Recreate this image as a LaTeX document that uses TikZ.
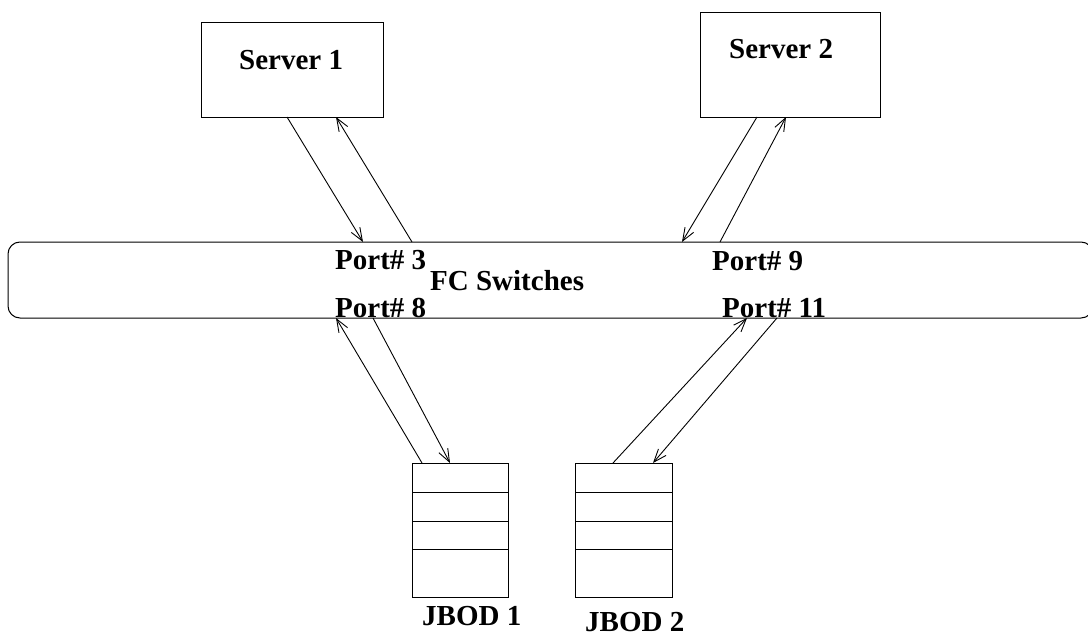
\documentclass[tikz,border=0pt]{standalone}
\usepackage{fontspec}
\setmainfont{Liberation Serif}
\usetikzlibrary{arrows.meta}
\begin{document}
\begin{tikzpicture}[x=1pt,y=-1pt,
  box/.style={draw, line width=1pt, inner sep=0pt, outer sep=0pt},
  lbl/.style={anchor=base west, inner sep=0pt, font=\fontsize{29}{31}\selectfont\bfseries},
  link/.style={line width=0.9pt, -{Straight Barb[length=13pt,width=10pt]}}]
\useasboundingbox (0,0) rectangle (1088,637);
\clip (0,0) rectangle (1088,637);
% boxes
\node[box, minimum width=182pt, minimum height=95pt] (s1) at (292,69.5) {};
\node[box, minimum width=180pt, minimum height=105pt] (s2) at (790,64.5) {};
\node[box, rounded corners=12pt, minimum width=1085pt, minimum height=76pt] (sw) at (550.5,280) {};
\node[box, minimum width=96pt, minimum height=134pt] (j1) at (460,530) {};
\node[box, minimum width=97pt, minimum height=134pt] (j2) at (623.5,530) {};
% JBOD dividers
\foreach \d in {29,58,86}{
  \draw[line width=1pt] ([yshift=-\d pt]j1.north west) -- ([yshift=-\d pt]j1.north east);
  \draw[line width=1pt] ([yshift=-\d pt]j2.north west) -- ([yshift=-\d pt]j2.north east);
}
% labels
\node[lbl] (t1) at (239,69) {Server 1};
\node[lbl] (t2) at (729,58) {Server 2};
\node[lbl] (p3) at (335,269) {Port\# 3};
\node[lbl] (fc) at (430,290) {FC Switches};
\node[lbl] (p9) at (712,270) {Port\# 9};
\node[lbl] (p8) at (335,317) {Port\# 8};
\node[lbl] (p11) at (722,317) {Port\# 11};
\node[lbl] (jb1) at (422,625) {JBOD 1};
\node[lbl] (jb2) at (585,631) {JBOD 2};
% links
\draw[link] ([xshift=86pt]s1.south west) -- ([xshift=355pt]sw.north west);
\draw[link] ([xshift=404pt]sw.north west) -- ([xshift=135pt]s1.south west);
\draw[link] ([xshift=57pt]s2.south west) -- ([xshift=674pt]sw.north west);
\draw[link] ([xshift=712pt]sw.north west) -- ([xshift=86pt]s2.south west);
\draw[link] ([xshift=10pt]j1.north west) -- ([xshift=328pt]sw.south west);
\draw[link] ([xshift=365pt]sw.south west) -- ([xshift=38pt]j1.north west);
\draw[link] ([xshift=38pt]j2.north west) -- ([xshift=739pt]sw.south west);
\draw[link] ([xshift=769pt]sw.south west) -- ([xshift=78pt]j2.north west);
\end{tikzpicture}
\end{document}
